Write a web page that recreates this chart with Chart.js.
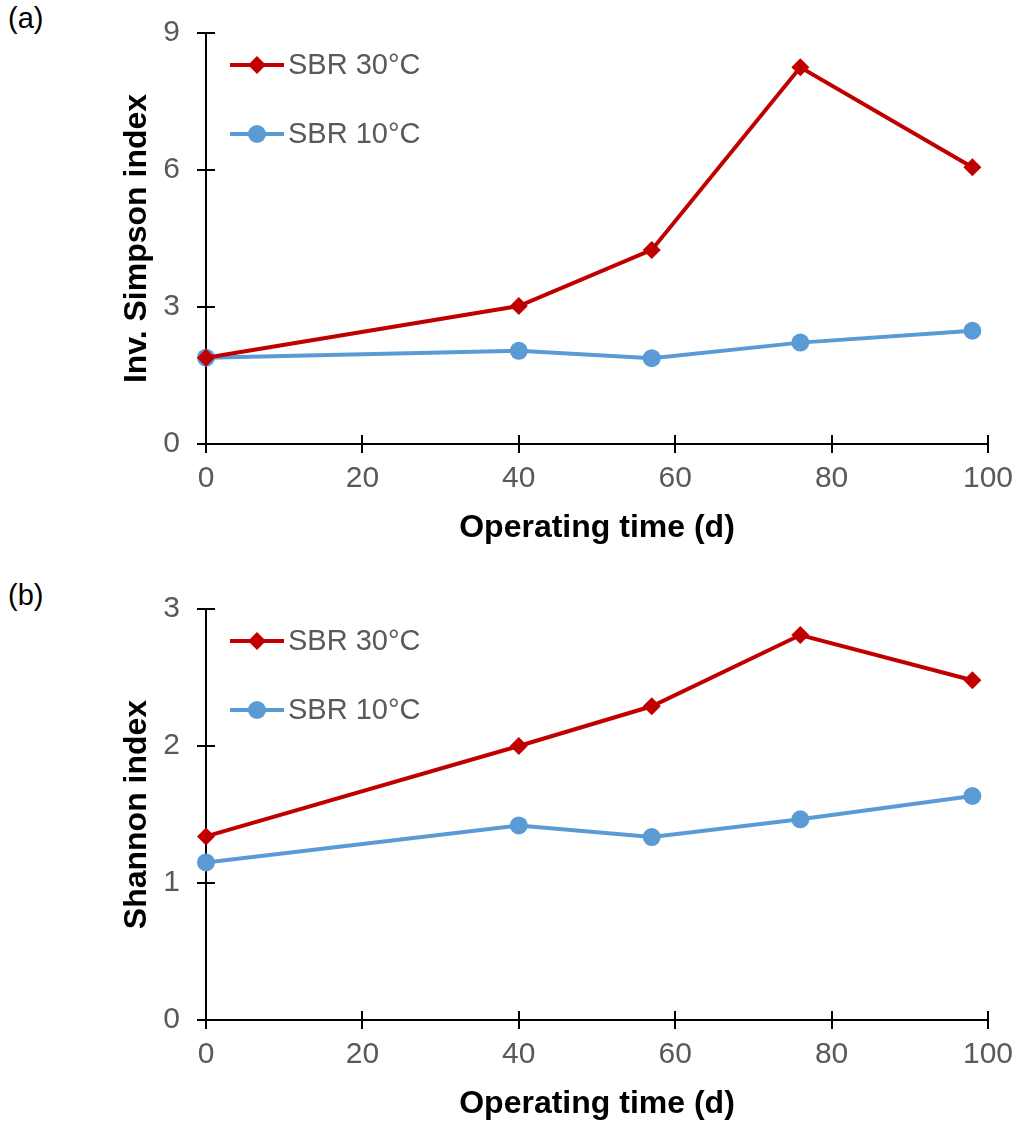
<!DOCTYPE html>
<html>
<head>
<meta charset="utf-8">
<script src="https://cdn.jsdelivr.net/npm/chart.js"></script>
<style>
  body { margin:0; background:#fff; width:1018px; height:1124px; position:relative; overflow:hidden; font-family:"Liberation Sans", Arial, sans-serif; }
  .box { position:absolute; left:0; width:1018px; height:548px; }
  .tag { position:absolute; left:8px; font-size:29px; color:#000; }
</style>
</head>
<body>
<div class="tag" style="top:2px">(a)</div>
<div class="box" style="top:0"><canvas id="chartA"></canvas></div>
<div class="tag" style="top:579px">(b)</div>
<div class="box" style="top:576px"><canvas id="chartB"></canvas></div>
<script>
// operating time (d)
const days = [0, 40, 57, 76, 98];
const seriesNames = ['SBR 30°C', 'SBR 10°C'];

// (a) inverse Simpson index
const invSimpson30 = [1.89, 3.02, 4.25, 8.25, 6.06];
const invSimpson10 = [1.89, 2.04, 1.88, 2.22, 2.48];

// (b) Shannon index
const shannon30 = [1.34, 2.00, 2.29, 2.81, 2.48];
const shannon10 = [1.15, 1.42, 1.335, 1.465, 1.635];

const red = '#C00000';
const blue = '#5B9BD5';
const grey = '#595959';
const fontName = '"Liberation Sans", Arial, sans-serif';

// ticks crossing the axis line, like the excel original
const crossTicks = {
  id: 'crossTicks',
  beforeDatasetsDraw(chart) {
    const ctx = chart.ctx;
    const a = chart.chartArea;
    const sx = chart.scales.x, sy = chart.scales.y;
    ctx.save();
    ctx.strokeStyle = '#000';
    ctx.lineWidth = 2;
    ctx.beginPath();
    sx.ticks.forEach((t, i) => {
      const px = Math.round(sx.getPixelForTick(i));
      ctx.moveTo(px, a.bottom - 9);
      ctx.lineTo(px, a.bottom + 9);
    });
    sy.ticks.forEach((t, i) => {
      const py = Math.round(sy.getPixelForTick(i));
      ctx.moveTo(a.left - 9, py);
      ctx.lineTo(a.left + 9, py);
    });
    ctx.stroke();
    ctx.restore();
  }
};

// legend sits inside the plot, top left
const insideLegend = {
  id: 'insideLegend',
  afterDraw(chart) {
    const ctx = chart.ctx;
    const a = chart.chartArea;
    chart.data.datasets.forEach((ds, i) => {
      const yy = a.top + 32 + i * 69;
      const x0 = a.left + 24;
      const cx = x0 + 27;
      ctx.save();
      ctx.strokeStyle = ds.borderColor;
      ctx.lineWidth = ds.borderWidth;
      ctx.beginPath();
      ctx.moveTo(x0, yy);
      ctx.lineTo(x0 + 54, yy);
      ctx.stroke();
      ctx.fillStyle = ds.backgroundColor;
      ctx.beginPath();
      const r = ds.pointRadius;
      if (ds.pointStyle === 'rectRot') {
        ctx.moveTo(cx, yy - r);
        ctx.lineTo(cx + r, yy);
        ctx.lineTo(cx, yy + r);
        ctx.lineTo(cx - r, yy);
        ctx.closePath();
      } else {
        ctx.arc(cx, yy, r, 0, Math.PI * 2);
      }
      ctx.fill();
      ctx.fillStyle = grey;
      ctx.font = '29px ' + fontName;
      ctx.textBaseline = 'middle';
      ctx.fillText(ds.label, x0 + 58, yy + 1);
      ctx.restore();
    });
  }
};

function makeChart(id, s30, s10, yMax, yStep, yTitle) {
  const ctx = document.getElementById(id).getContext('2d');
  return new Chart(ctx, {
    type: 'line',
    data: {
      datasets: [
        {
          label: seriesNames[0],
          data: days.map((d, i) => ({ x: d, y: s30[i] })),
          borderColor: red, backgroundColor: red,
          borderWidth: 4, pointStyle: 'rectRot', pointRadius: 9,
          pointBorderWidth: 0, fill: false, clip: false
        },
        {
          label: seriesNames[1],
          data: days.map((d, i) => ({ x: d, y: s10[i] })),
          borderColor: blue, backgroundColor: blue,
          borderWidth: 4, pointStyle: 'circle', pointRadius: 9,
          pointBorderWidth: 0, fill: false, clip: false
        }
      ]
    },
    options: {
      responsive: true,
      maintainAspectRatio: false,
      animation: false,
      layout: { padding: { top: 33, right: 30, left: 0, bottom: 0 } },
      plugins: { legend: { display: false }, tooltip: { enabled: false } },
      scales: {
        x: {
          type: 'linear', min: 0, max: 100,
          afterFit(scale) {
            scale.height = 104;
            scale.paddingLeft = 0; scale.paddingRight = 0;
          },
          ticks: { stepSize: 20, color: grey, padding: 17, font: { family: fontName, size: 30 } },
          grid: { drawOnChartArea: false, drawTicks: false },
          border: { color: '#000', width: 2 },
          title: {
            display: true, text: 'Operating time (d)', color: '#000',
            font: { family: fontName, size: 32, weight: 'bold' },
            padding: { top: 0, bottom: 1 }
          }
        },
        y: {
          min: 0, max: yMax,
          afterFit(scale) {
            scale.width = 206;
            scale.paddingTop = 0; scale.paddingBottom = 0;
          },
          ticks: { stepSize: yStep, color: grey, padding: 26, font: { family: fontName, size: 30 } },
          grid: { drawOnChartArea: false, drawTicks: false },
          border: { color: '#000', width: 2 },
          title: {
            display: true, text: yTitle, color: '#000',
            font: { family: fontName, size: 32, weight: 'bold' },
            padding: { top: 118, bottom: 0 }
          }
        }
      }
    },
    plugins: [crossTicks, insideLegend]
  });
}

makeChart('chartA', invSimpson30, invSimpson10, 9, 3, 'Inv. Simpson index');
makeChart('chartB', shannon30, shannon10, 3, 1, 'Shannon index');
</script>
</body>
</html>
